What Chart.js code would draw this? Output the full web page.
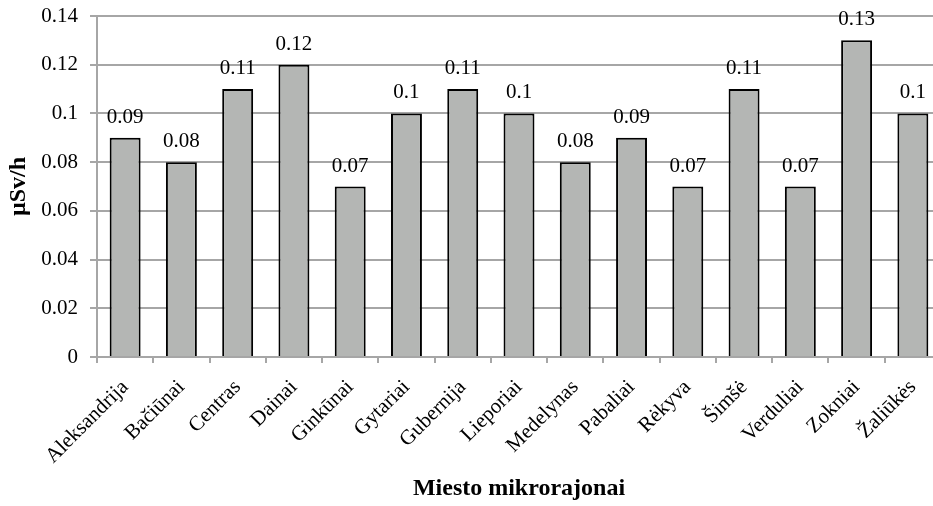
<!DOCTYPE html>
<html>
<head>
<meta charset="utf-8">
<script src="https://cdn.jsdelivr.net/npm/chart.js@4/dist/chart.umd.min.js"></script>
<style>
  html, body { margin:0; padding:0; background:#fff; overflow:hidden; }
  #wrap { width:945px; height:506px; }
</style>
</head>
<body>
<div id="wrap"><canvas id="radChart" width="945" height="506"></canvas></div>
<script>
// district names (x categories)
const districts = ['Aleksandrija','Bačiūnai','Centras','Dainai','Ginkūnai','Gytariai','Gubernija','Lieporiai','Medelynas','Pabaliai','Rėkyva','Šimšė','Verduliai','Zokniai','Žaliūkės'];
// dose rate, µSv/h
const doseRate = [0.09,0.08,0.11,0.12,0.07,0.1,0.11,0.1,0.08,0.09,0.07,0.11,0.07,0.13,0.1];
// y axis tick labels
const yTickLabels = ['0','0.02','0.04','0.06','0.08','0.1','0.12','0.14'];

const serif = "'Liberation Serif', 'Times New Roman', serif";
const gridGrey = '#a6a6a6';

// draws the value above each bar
const valueLabels = {
  id: 'valueLabels',
  afterDatasetsDraw(chart){
    const ctx = chart.ctx;
    const meta = chart.getDatasetMeta(0);
    ctx.save();
    ctx.font = '21px ' + serif;
    ctx.fillStyle = '#000';
    ctx.textAlign = 'center';
    ctx.textBaseline = 'alphabetic';
    meta.data.forEach((bar, i)=>{
      ctx.fillText(String(doseRate[i]), bar.x, bar.y - 15);
    });
    ctx.restore();
  }
};

const ctx = document.getElementById('radChart').getContext('2d');
new Chart(ctx, {
  type: 'bar',
  data: {
    labels: districts,
    datasets: [{
      data: doseRate,
      backgroundColor: '#b4b6b4',
      borderColor: '#000',
      borderWidth: 2,
      borderSkipped: 'bottom',
      categoryPercentage: 1,
      barPercentage: 0.55
    }]
  },
  options: {
    responsive: false,
    animation: false,
    devicePixelRatio: 1,
    layout: { padding: { top: 16, right: 4, left: 0, bottom: 0 } },
    plugins: { legend: { display: false }, tooltip: { enabled: false } },
    scales: {
      x: {
        grid: { drawOnChartArea: false, drawTicks: true, tickLength: 6, color: gridGrey, lineWidth: 2 },
        border: { color: gridGrey, width: 2 },
        ticks: { color: '#000', font: { family: serif, size: 21 }, maxRotation: 45, minRotation: 45, autoSkip: false, padding: 12 },
        title: { display: true, text: 'Miesto mikrorajonai', color: '#000', font: { family: serif, size: 24, weight: 'bold' }, padding: { top: 0, bottom: 3 } },
        afterFit(scale){ scale.height = 149; }
      },
      y: {
        min: 0, max: 0.14,
        grid: { color: gridGrey, lineWidth: 2, tickLength: 7 },
        border: { color: gridGrey, width: 2 },
        ticks: { stepSize: 0.02, color: '#000', font: { family: serif, size: 21 }, padding: 12,
          callback: (v, i) => yTickLabels[i] },
        title: { display: true, text: 'µSv/h', color: '#000', font: { family: serif, size: 24, weight: 'bold' }, padding: { top: 4, bottom: 0 } },
        afterFit(scale){ scale.width = 97; scale.paddingTop = 0; scale.paddingBottom = 0; }
      }
    }
  },
  plugins: [valueLabels]
});
</script>
</body>
</html>
